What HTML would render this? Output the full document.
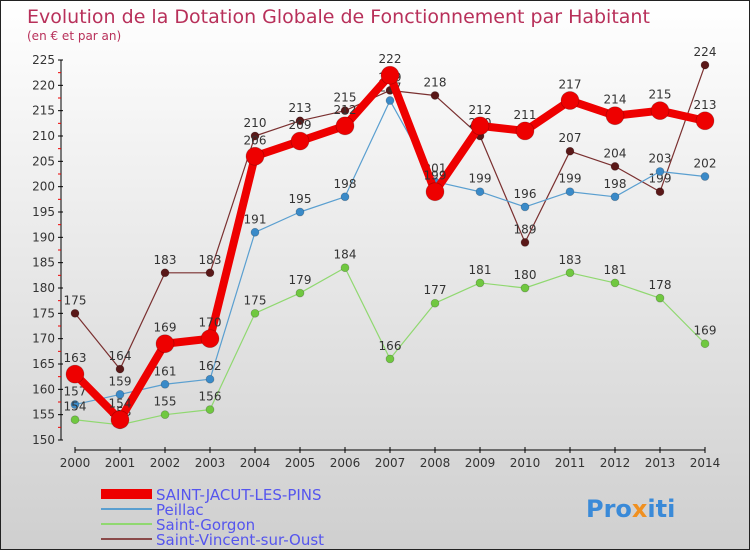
<!DOCTYPE html>
<html><head><meta charset="utf-8"><style>
body{margin:0}
#c{position:relative;width:748px;height:548px;border:1px solid #222;background:linear-gradient(#ffffff,#cfcfcf);font-family:"DejaVu Sans","Liberation Sans",sans-serif;overflow:hidden}
</style></head><body>
<div id="c">
<svg id="s" width="748" height="548"></svg>
</div>
<script>
const years=["2000","2001","2002","2003","2004","2005","2006","2007","2008","2009","2010","2011","2012","2013","2014"];
const yTicks=[150,155,160,165,170,175,180,185,190,195,200,205,210,215,220,225];
const sj=[163,154,169,170,206,209,212,222,199,212,211,217,214,215,213];
const peillac=[157,159,161,162,191,195,198,217,201,199,196,199,198,203,202];
const gorgon=[154,153,155,156,175,179,184,166,177,181,180,183,181,178,169];
const vincent=[175,164,183,183,210,213,215,219,218,210,189,207,204,199,224];
const names=["SAINT-JACUT-LES-PINS","Peillac","Saint-Gorgon","Saint-Vincent-sur-Oust"];
const NS="http://www.w3.org/2000/svg";
const s=document.getElementById('s');
function X(i){return 74+i*45;}
function Y(v){return 439-(v-150)*380/75;}
function el(t,a,p){const e=document.createElementNS(NS,t);for(const k in a)e.setAttribute(k,a[k]);(p||s).appendChild(e);return e;}
function tx(x,y,str,a){const e=el('text',Object.assign({x:x,y:y},a));e.textContent=str;return e;}
let t=tx(26,22,"Evolution de la Dotation Globale de Fonctionnement par Habitant",{'font-size':19,fill:'#b8305a'});

t=tx(26,39,"(en € et par an)",{'font-size':12,fill:'#b8305a'});

// axes
let ax=el('line',{x1:60,y1:Y(225),x2:60,y2:Y(150),stroke:'#000'});

ax=el('line',{x1:X(0),y1:449,x2:X(14),y2:449,stroke:'#000'});

yTicks.forEach((v,i)=>{
 el('line',{x1:57,y1:Y(v),x2:62,y2:Y(v),stroke:'#000'});
 if(i<yTicks.length-1)el('line',{x1:57,y1:Y(v+2.5),x2:60,y2:Y(v+2.5),stroke:'#e00'});
 const l=tx(54,Y(v)+4,String(v),{'font-size':12,fill:'#333','text-anchor':'end'});
 
});
years.forEach((y,i)=>{
 el('line',{x1:X(i),y1:446,x2:X(i),y2:452,stroke:'#000'});
 const l=tx(X(i),466,y,{'font-size':12,fill:'#333','text-anchor':'middle'});
 
});
function series(data,color,w,r,name,dot){
 const g=el('g',{});
 
 el('polyline',{points:data.map((v,i)=>X(i)+','+Y(v)).join(' '),fill:'none',stroke:color,'stroke-width':w,'stroke-linejoin':'round'},g);
 data.forEach((v,i)=>{
  const c=el('circle',{cx:X(i),cy:Y(v),r:r,fill:dot,stroke:'rgba(0,0,0,0.25)','stroke-width':0.7},g);
  
  const l=tx(X(i),Y(v)-9-(r>5?3:0),String(v),{'font-size':12,fill:'#333','text-anchor':'middle'},g);
  
 });
}
series(vincent,'#7a3030',1.2,4,'series-saint-vincent','#5a1818');
series(peillac,'#5a9fd0',1.2,4,'series-peillac','#3a8ac8');
series(gorgon,'#90d870',1.2,4,'series-saint-gorgon','#70c840');
series(sj,'#ee0000',8,9,'series-saint-jacut','#ee0000');
// legend
const lc=['#ee0000','#5a9fd0','#90d870','#8a4a4a'],lw=[10,2,2,2];
names.forEach((n,i)=>{
 const y=493+i*15;
 const g=el('g',{});
 el('line',{x1:100,y1:y,x2:151,y2:y,stroke:lc[i],'stroke-width':lw[i]},g);
 tx(155,y+6,n,{'font-size':15,fill:'#5555ee'},g);
});
const lg=tx(585,516,"Pro",{'font-size':24,'font-weight':'bold',fill:'#3a8ad8'});

const t2=el('tspan',{fill:'#f09020'},lg);t2.textContent="x";
const t3=el('tspan',{fill:'#3a8ad8'},lg);t3.textContent="iti";
</script>
</body></html>
